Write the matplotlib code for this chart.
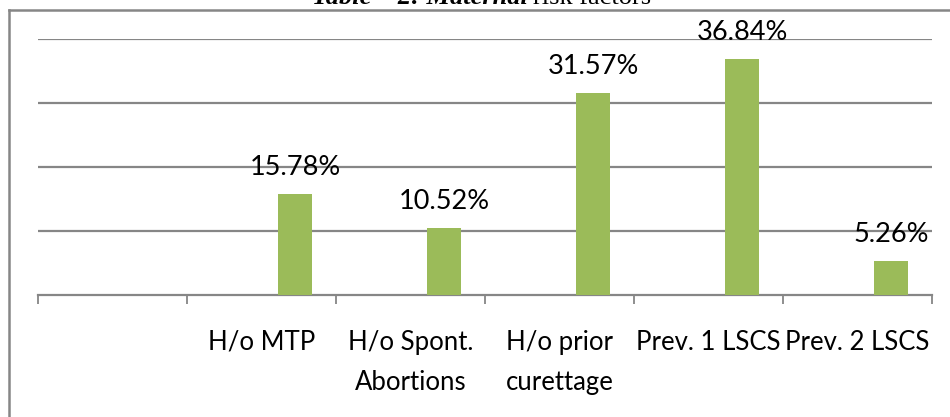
"""Maternal risk factors bar chart (Excel-style)."""

import matplotlib
matplotlib.use("Agg")
import matplotlib.pyplot as plt
from matplotlib.lines import Line2D
import numpy as np

# data
categories = ["", "H/o MTP", "H/o Spont.\nAbortions", "H/o prior\ncurettage",
              "Prev. 1 LSCS", "Prev. 2 LSCS"]
values = [np.nan, 15.78, 10.52, 31.57, 36.84, 5.26]
value_labels = ["", "15.78%", "10.52%", "31.57%", "36.84%", "5.26%"]
y_gridlines = [10, 20, 30, 40]

W, H, DPI = 950, 417, 100
GREEN = "#9BBB59"
GREY = "#868686"
FONT = "Lato"

fig = plt.figure(figsize=(W / DPI, H / DPI), dpi=DPI)
ax = fig.add_axes([38 / W, (H - 295) / H, (932 - 38) / W, (295 - 38.5) / H])

x = np.arange(len(categories))
bar_w = 0.228
ax.bar(x + bar_w, values, width=bar_w, color=GREEN, zorder=3)

for xi, v, lab in zip(x, values, value_labels):
    if np.isnan(v):
        continue
    ax.annotate(lab, (xi + bar_w, v), xytext=(0, 13.7), textcoords="offset points",
                ha="center", va="baseline", fontsize=19.5, family=FONT, zorder=4)

ax.set_xlim(-0.5, len(categories) - 0.5)
ax.set_ylim(0, 40)

# gridlines
for g in y_gridlines:
    ax.axhline(g, color=GREY, lw=1.6, zorder=1)

for s in ["top", "right", "left"]:
    ax.spines[s].set_visible(False)
ax.spines["bottom"].set_color(GREY)
ax.spines["bottom"].set_linewidth(1.6)

ax.set_yticks([])
ax.set_xticks(x)
ax.set_xticklabels(categories, fontsize=18.5, family=FONT, linespacing=1.75)
ax.tick_params(axis="x", which="major", length=0, pad=25)
ax.set_xticks(np.arange(len(categories) + 1) - 0.5, minor=True)
ax.tick_params(axis="x", which="minor", length=6.5, width=1.3, color=GREY)

# outer frame (cut off at right and bottom)
fig.add_artist(Line2D([9 / W, 1.02], [1 - 9.5 / H] * 2, color=GREY, lw=1.8,
                      transform=fig.transFigure))
fig.add_artist(Line2D([9 / W] * 2, [1 - 9.5 / H, -0.02], color=GREY, lw=1.8,
                      transform=fig.transFigure))

# title, mostly cut off at the top
t1 = fig.text(312 / W, 1 - 3.5 / H, "Table \u2013 2: Maternal", family="Liberation Serif",
              style="italic", weight="bold", fontsize=19, va="baseline", ha="left")
fig.canvas.draw()
bb = t1.get_window_extent()
fig.text(bb.x1 / W + 5 / W, 1 - 3.5 / H, "risk factors", family="Liberation Serif",
         fontsize=19, va="baseline", ha="left")

fig.savefig("out.png", dpi=DPI)
